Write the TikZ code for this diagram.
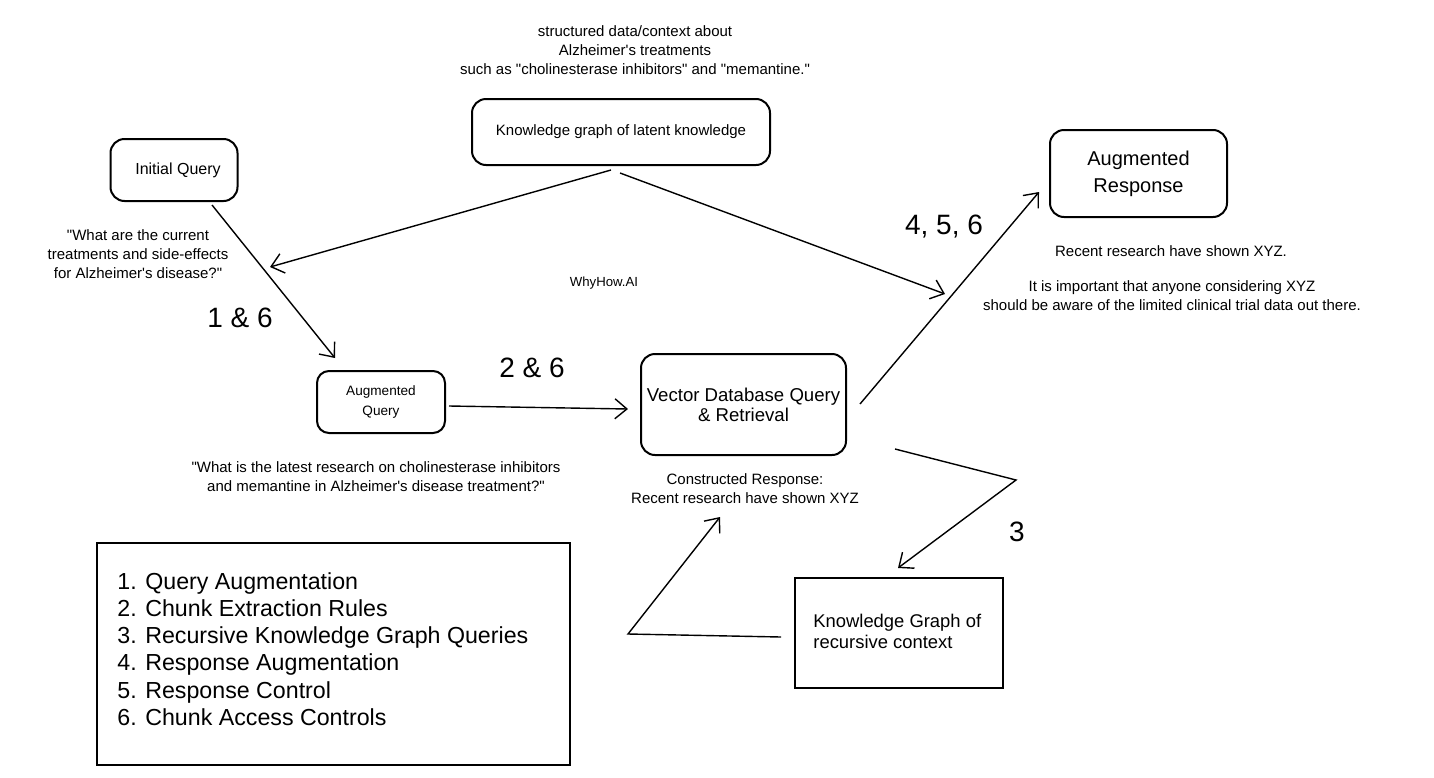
\documentclass[tikz,border=0pt]{standalone}
\usepackage{fontspec}
\setmainfont{Liberation Sans}
\usetikzlibrary{arrows.meta}
\newcommand{\dq}{\textquotedbl}
\newcommand{\ap}{\textquotesingle}
\begin{document}
\begin{tikzpicture}[x=0.5pt,y=-0.5pt,
  box/.style={draw, line width=1pt, rounded corners=7pt, inner sep=0pt, align=center},
  sqbox/.style={draw, line width=1pt, inner sep=0pt},
  txt/.style={inner sep=0pt, align=center, font=\fontsize{7.5}{9.5}\selectfont},
  big/.style={inner sep=0pt, font=\fontsize{14}{16}\selectfont},
  arr/.style={line width=0.7pt, -{Straight Barb[length=6pt,width=10pt]}},
  ln/.style={line width=0.7pt}]
\useasboundingbox (0,0) rectangle (1434,777);

% boxes
\node[box, minimum width=63.5pt, minimum height=31pt] (iq) at (174,170) {};
\node[inner sep=0pt, font=\fontsize{8}{9.5}\selectfont] (iqt) at (178,170) {Initial Query};
\node[box, minimum width=149pt, minimum height=33pt, font=\fontsize{7.5}{9.5}\selectfont] (kg) at (621,132) {Knowledge graph of latent knowledge};
\node[box, minimum width=88.5pt, minimum height=43.5pt, font=\fontsize{10}{13.5}\selectfont] (ar) at (1138.5,173.5) {Augmented\\Response};
\node[box, rounded corners=6pt, minimum width=64pt, minimum height=31pt, font=\fontsize{6.8}{10}\selectfont] (aq) at (381,402) {Augmented\\Query};
\node[box, minimum width=102.5pt, minimum height=50.5pt, font=\fontsize{9.3}{10}\selectfont] (vd) at (743.5,404.5) {Vector Database Query\\\& Retrieval};
\node[sqbox, minimum width=104pt, minimum height=55pt] (kr) at (899,633) {};
\node[inner sep=0pt, anchor=west, align=left, font=\fontsize{9.2}{10.5}\selectfont] (krt) at (813,631) {Knowledge Graph of\\recursive context};
\node[sqbox, minimum width=236.5pt, minimum height=111pt] (lg) at (333.5,654) {};
\node[inner sep=0pt, anchor=north west, align=left, font=\fontsize{11.6}{13.6}\selectfont] (lgt) at (117,572) {1. Query Augmentation\\2. Chunk Extraction Rules\\3. Recursive Knowledge Graph Queries\\4. Response Augmentation\\5. Response Control\\6. Chunk Access Controls};

% texts
\node[txt] (top) at (635,50) {structured data/context about\\Alzheimer\ap s treatments\\such as \dq cholinesterase inhibitors\dq{} and \dq memantine.\dq};
\node[txt] (q1) at (138,254) {\dq What are the current\\treatments and side-effects\\for Alzheimer\ap s disease?\dq};
\node[big] (l16) at (240,318) {1 \& 6};
\node[txt, font=\fontsize{6.6}{8}\selectfont] (why) at (604,283) {WhyHow.AI};
\node[big] (l26) at (532,368) {2 \& 6};
\node[big] (l456) at (944,227) {4, 5, 6};
\node[txt] (rr) at (1171,251) {Recent research have shown XYZ.};
\node[txt] (imp) at (1172,296) {It is important that anyone considering XYZ\\should be aware of the limited clinical trial data out there.};
\node[txt] (q2) at (376,477) {\dq What is the latest research on cholinesterase inhibitors\\and memantine in Alzheimer\ap s disease treatment?\dq};
\node[txt] (cr) at (745,489) {Constructed Response:\\Recent research have shown XYZ};
\node[big] (l3) at (1017,532) {3};

% connector coordinates
\coordinate (iqs) at (212,205);
\coordinate (aqe) at (335,358);
\coordinate (kgs1) at (611,170);
\coordinate (kge1) at (270,267);
\coordinate (kgs2) at (620,173);
\coordinate (kge2) at (945,294);
\coordinate (aqs) at (449,406);
\coordinate (vde) at (628,409);
\coordinate (vds) at (860,404);
\coordinate (are) at (1039,192);
\coordinate (vds2) at (895,449);
\coordinate (bend1) at (1016,480);
\coordinate (kre) at (898,568);
\coordinate (krs) at (781,637);
\coordinate (bend2) at (628,634);
\coordinate (cre) at (720,517);

\draw[arr] (iqs) -- (aqe);
\draw[arr] (kgs1) -- (kge1);
\draw[arr] (kgs2) -- (kge2);
\draw[arr] (aqs) -- (vde);
\draw[arr] (vds) -- (are);
\draw[arr] (vds2) -- (bend1) -- (kre);
\draw[arr] (krs) -- (bend2) -- (cre);
\end{tikzpicture}
\end{document}
